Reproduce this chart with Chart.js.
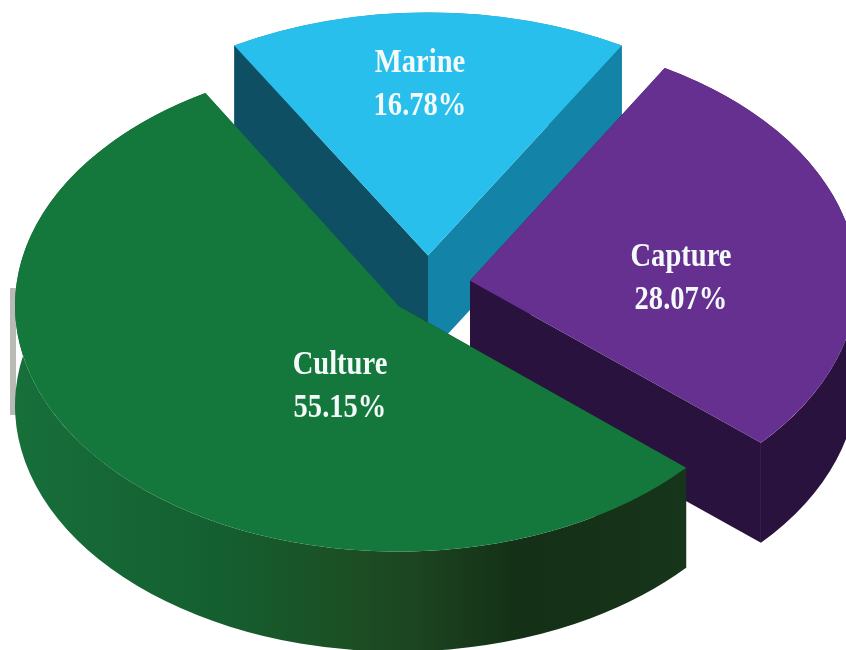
<!DOCTYPE html>
<html>
<head>
<meta charset="utf-8">
<title>Fish production share</title>
<script src="https://cdn.jsdelivr.net/npm/chart.js@4"></script>
<style>
    html, body { margin: 0; padding: 0; background: #ffffff; overflow: hidden; }
    #wrap { width: 846px; height: 650px; position: relative; }
</style>
</head>
<body>
<div id="wrap"><canvas id="pie"></canvas></div>
<script>
// Chart data
const categories = ['Marine', 'Capture', 'Culture'];
const shares = [16.78, 28.07, 55.15];

// Slice colours
const topColors = ['#29bfec', '#663090', '#14783c'];
const startFaceColors = ['#0f4f63', '#2a123f', '#17321a'];
const endFaceColors = ['#1384a8', '#2a123f', '#14783c'];
// Outer wall gradient, [position, colour]
const outerStops = [
    [[0, '#1384a8']],
    [[0, '#2a123f']],
    [[0, '#176f3a'], [0.3, '#145f30'], [0.5, '#1c4f24'], [0.6, '#1c4420'], [0.75, '#143016'], [1, '#17351a']]
];

// How far each slice is pulled out, as a part of the radius
const explode = [0.14, 0.11, 0.10];
// Small per slice corrections, the original is not a true projection
const lift = [0, 5, 0];
const widthScale = [0.995, 1, 0.99];
const heightScale = [0.988, 1, 1];

// Fake 3D view of the pie
const view = { cx: 428, cy: 290, rx: 387, ry: 246, depth: 100 };

// Label centres
const labelX = [420, 681, 340];
const labelY = [63, 257, 365];
const labelGap = 43;

function drawSlice(ctx, arc, i) {
    const mid = (arc.startAngle + arc.endAngle) / 2;
    const ax = view.cx + Math.cos(mid) * explode[i] * view.rx;
    const ay = view.cy + Math.sin(mid) * explode[i] * view.ry - lift[i];
    const rx = view.rx * widthScale[i];
    const ry = view.ry * heightScale[i];
    const d = view.depth;
    const edge = a => [ax + Math.cos(a) * rx, ay + Math.sin(a) * ry];

    function drawWall() {
        const grad = ctx.createLinearGradient(ax - rx, 0, edge(arc.startAngle)[0], 0);
        outerStops[i].forEach(s => grad.addColorStop(s[0], s[1]));
        ctx.fillStyle = grad;
        ctx.beginPath();
        ctx.ellipse(ax, ay, rx, ry, 0, arc.startAngle, arc.endAngle);
        ctx.ellipse(ax, ay + d, rx, ry, 0, arc.endAngle, arc.startAngle, true);
        ctx.closePath();
        ctx.fill();
    }

    function drawFaces() {
        const faces = [[arc.startAngle, startFaceColors[i]], [arc.endAngle, endFaceColors[i]]];
        faces.forEach(f => {
            const p = edge(f[0]);
            ctx.fillStyle = f[1];
            ctx.beginPath();
            ctx.moveTo(ax, ay);
            ctx.lineTo(p[0], p[1]);
            ctx.lineTo(p[0], p[1] + d);
            ctx.lineTo(ax, ay + d);
            ctx.closePath();
            ctx.fill();
        });
    }

    // A far slice shows its cut faces in front of the wall, a near one the wall
    if (Math.sin(mid) < -0.5) {
        drawWall();
        drawFaces();
    } else {
        drawFaces();
        drawWall();
    }

    // Top face, drawn by the arc element itself
    ctx.save();
    ctx.translate(ax, ay);
    ctx.scale(rx / arc.outerRadius, ry / arc.outerRadius);
    ctx.translate(-arc.x, -arc.y);
    arc.draw(ctx);
    ctx.restore();
}

function drawLabel(ctx, text, x, y) {
    ctx.save();
    ctx.translate(x, y);
    ctx.scale(0.84, 1);
    ctx.fillStyle = '#f4fafa';
    ctx.font = 'bold 34px "Liberation Serif"';
    ctx.textAlign = 'center';
    ctx.textBaseline = 'middle';
    ctx.fillText(text, 0, 0);
    ctx.restore();
}

const pie3d = {
    id: 'pie3d',
    beforeDatasetDraw(chart, args) {
        const ctx = chart.ctx;
        const arcs = args.meta.data;
        ctx.save();
        // pale sliver left of the big slice
        ctx.fillStyle = '#b9b9b6';
        ctx.fillRect(10, 288, 6, 127);
        arcs.forEach((arc, i) => drawSlice(ctx, arc, i));
        categories.forEach((name, i) => {
            drawLabel(ctx, name, labelX[i], labelY[i]);
            drawLabel(ctx, shares[i].toFixed(2) + '%', labelX[i], labelY[i] + labelGap);
        });
        ctx.restore();
        return false;
    }
};

new Chart(document.getElementById('pie'), {
    type: 'pie',
    data: {
        labels: categories,
        datasets: [{
            data: shares,
            backgroundColor: topColors,
            borderWidth: 0,
            clip: false
        }]
    },
    options: {
        responsive: true,
        maintainAspectRatio: false,
        animation: false,
        rotation: -30.2,
        plugins: {
            legend: { display: false },
            tooltip: { enabled: false }
        }
    },
    plugins: [pie3d]
});
</script>
</body>
</html>
